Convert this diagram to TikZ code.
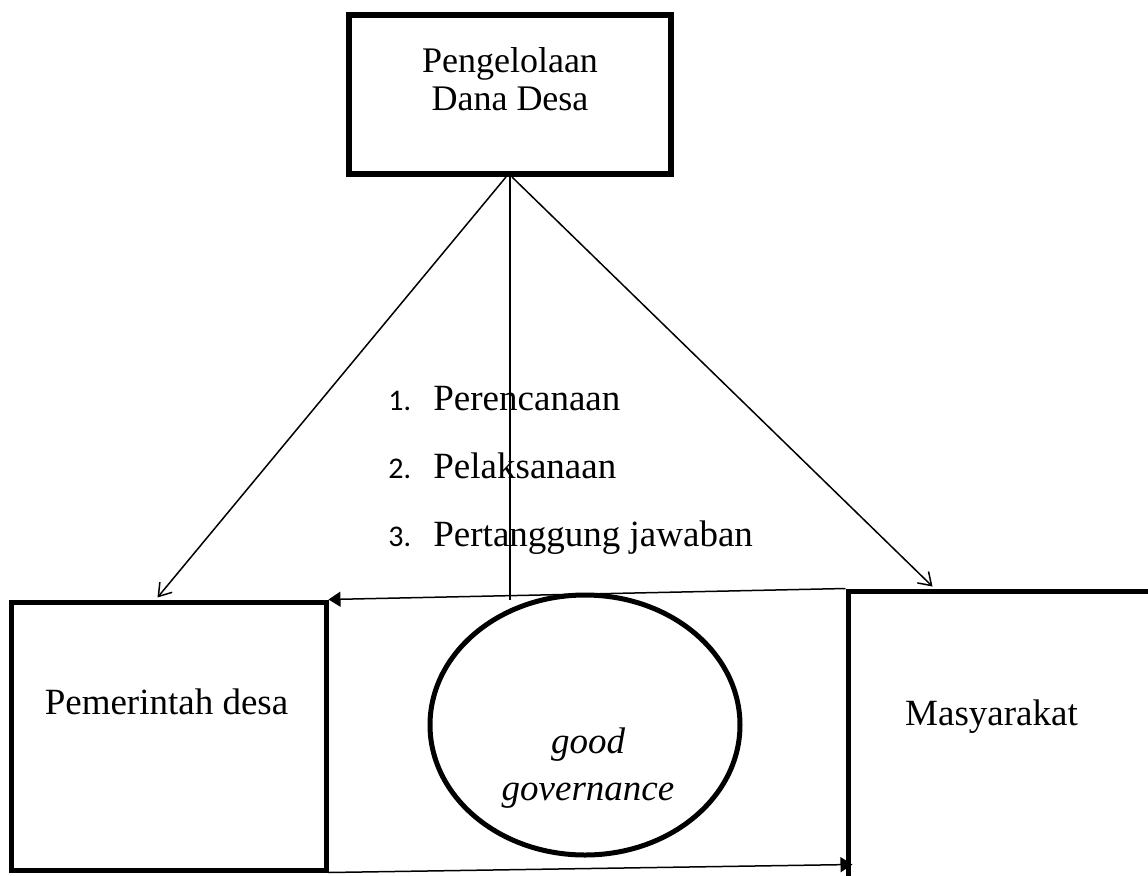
\documentclass[tikz,border=0pt]{standalone}
\usepackage{fontspec}
\setmainfont{Liberation Serif}
\newfontfamily\numfont{Carlito}
\usetikzlibrary{positioning,shapes.geometric,arrows.meta,calc}

\begin{document}
\begin{tikzpicture}[
    x=0.5pt, y=-0.5pt,
    box/.style={rectangle, draw, line width=2.5pt, inner sep=0pt},
    txt/.style={font=\fontsize{18.5}{22}\selectfont, inner sep=0pt, anchor=base},
    toptxt/.style={txt, font=\fontsize{18}{20}\selectfont},
    ital/.style={txt, font=\fontsize{18.5}{22}\selectfont\itshape},
    item/.style={txt, anchor=base west},
    num/.style={item, font=\numfont\fontsize{15}{18}\selectfont},
    arr/.style={-{Straight Barb[length=6pt,width=8pt]}, line width=0.75pt},
    farr/.style={-{Triangle[length=6pt,width=7.5pt]}, line width=0.75pt},
    ln/.style={line width=0.75pt}]
    \path[use as bounding box, clip] (0,0) rectangle (1148,875);
    % boxes
    \node[box, line width=3pt, minimum width=161pt, minimum height=79.5pt] (dana) at (510,94.5) {};
    \node[toptxt] (danaA) at (510,72) {Pengelolaan};
    \node[toptxt] (danaB) at (510,110) {Dana Desa};
    \node[box, minimum width=157.5pt, minimum height=134pt] (pem) at (168.5,736) {};
    \node[txt] (pemtxt) at (166.5,714) {Pemerintah desa};
    \node[box, minimum width=206pt, minimum height=199.5pt] (mas) at (1054,790.5) {};
    \node[txt] (mastxt) at (991.5,725) {Masyarakat};
    \node[ellipse, draw, line width=2.5pt, inner sep=0pt, minimum width=155pt, minimum height=130pt] (gg) at (585,725) {};
    \node[ital] (ggA) at (588,753) {good};
    \node[ital] (ggB) at (588,800) {governance};
    % list
    \node[num] (n1) at (388,410) {1.};  \node[item] (l1) at (433,410) {Perencanaan};
    \node[num] (n2) at (388,478) {2.};  \node[item] (l2) at (433,478) {Pelaksanaan};
    \node[num] (n3) at (388,546) {3.};  \node[item] (l3) at (433,546) {Pertanggung jawaban};
    % connectors
    \draw[arr] ($(dana.south)+(-4,0)$) -- ($(pem.north)+(-11,-2)$);
    \draw[arr] ($(dana.south)+(2,0)$) -- ($(mas.north west)+(87,-2)$);
    \draw[ln] (dana.south) -- (dana.south |- pem.north);
    \draw[farr] (mas.north west) -- (pem.north east);
    \draw[farr] (pem.south east) -- ($(mas.north west)+(7,276)$);
\end{tikzpicture}
\end{document}
